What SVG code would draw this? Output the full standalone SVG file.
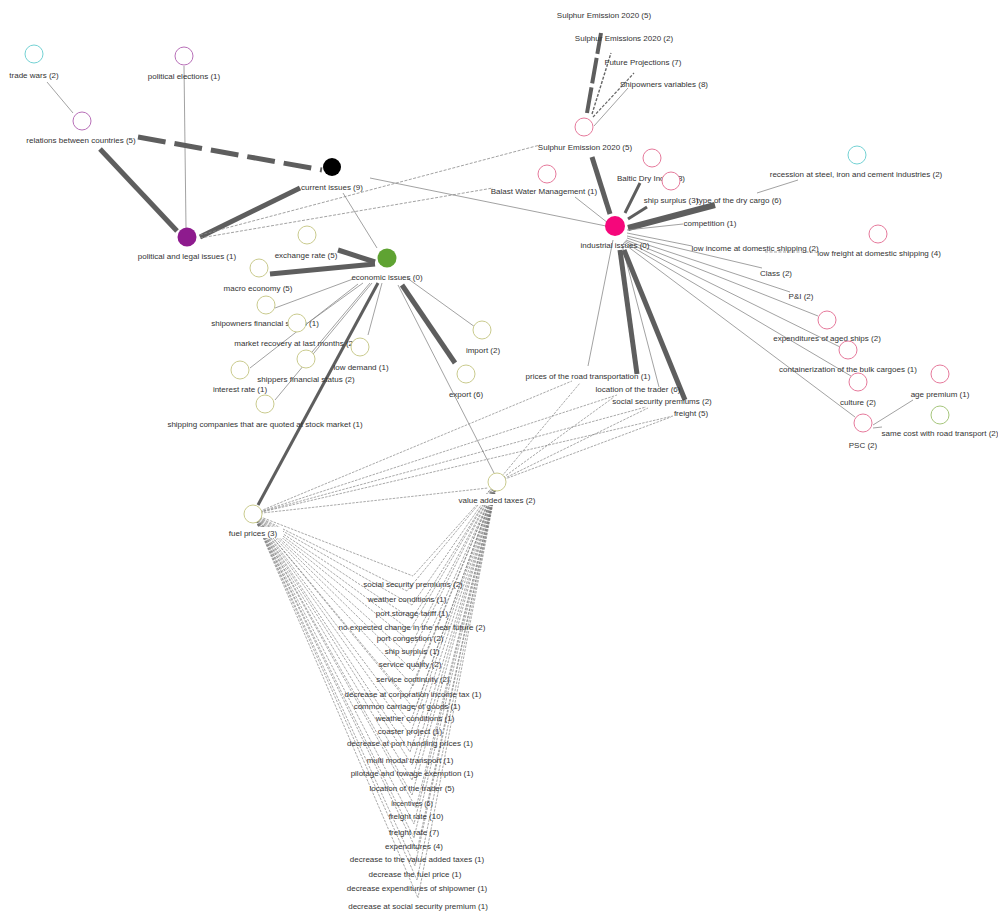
<svg xmlns="http://www.w3.org/2000/svg" width="998" height="915" viewBox="0 0 998 915">
<style>
text{font-family:"Liberation Sans",Arial,sans-serif;font-size:8px;fill:#333;text-anchor:middle}
.t{stroke:#8a8a8a;stroke-width:.8;fill:none}
.d{stroke:#8a8a8a;stroke-width:.8;fill:none;stroke-dasharray:3 1.5}
.m{stroke:#5e5e5e;stroke-width:3;fill:none}
.T{stroke:#5e5e5e;stroke-width:5;fill:none}
.f{stroke:#6e6e6e;stroke-width:.6;fill:none;stroke-dasharray:2.5 1.2}
.cy{fill:#fff;stroke:#74d2d4;stroke-width:1}
.pu{fill:#fff;stroke:#b870b8;stroke-width:1}
.pk{fill:#fff;stroke:#e67a9c;stroke-width:1}
.ol{fill:#fff;stroke:#cacb8e;stroke-width:1}
.gr{fill:#fff;stroke:#a6c67c;stroke-width:1}
</style>
<defs>
<mask id="lm" maskUnits="userSpaceOnUse" x="0" y="0" width="998" height="915">
<rect x="0" y="0" width="998" height="915" fill="#fff"/>
<rect x="225" y="527" width="58" height="11" fill="#000"/>
<rect x="456" y="494" width="82" height="11" fill="#000"/>
</mask>
</defs>
<rect width="998" height="915" fill="#fff"/>
<g id="connectors">
<line class="t" x1="47" y1="82" x2="73" y2="113"/>
<line class="t" x1="184" y1="66" x2="186" y2="228"/>
<line class="T" x1="100" y1="149" x2="177" y2="231"/>
<line class="T" x1="200" y1="237" x2="300" y2="188"/>
<line class="T" x1="138" y1="137" x2="322" y2="170" style="stroke-dasharray:28 9"/>
<line class="d" x1="200" y1="235" x2="540" y2="145"/>
<line class="d" x1="200" y1="238" x2="493" y2="188"/>
<line class="t" x1="343" y1="193" x2="377" y2="248"/>
<line class="t" x1="370" y1="178" x2="606" y2="226"/>
<line class="T" x1="587" y1="113" x2="601" y2="33" style="stroke-width:4;stroke-dasharray:26 4"/>
<line class="d" x1="592" y1="114" x2="611" y2="53" style="stroke-width:1.4;stroke:#666"/>
<line class="d" x1="593" y1="117" x2="634" y2="73" style="stroke-width:1.2;stroke:#666"/>
<line class="t" x1="594" y1="126" x2="628" y2="88"/>
<line class="T" x1="592" y1="157" x2="610" y2="214"/>
<line class="t" x1="575" y1="197" x2="608" y2="223"/>
<line class="m" x1="640" y1="183" x2="625" y2="213"/>
<line class="m" x1="647" y1="207" x2="628" y2="219"/>
<line class="T" x1="715" y1="205" x2="628" y2="228" style="stroke-width:6"/>
<line class="t" x1="627" y1="230" x2="683" y2="224"/>
<line class="t" x1="627" y1="233" x2="692" y2="246"/>
<line class="t" x1="627" y1="236" x2="762" y2="268"/>
<line class="t" x1="627" y1="238" x2="790" y2="292"/>
<line class="t" x1="626" y1="240" x2="818" y2="316"/>
<line class="t" x1="625" y1="241" x2="840" y2="347"/>
<line class="t" x1="624" y1="242" x2="851" y2="376"/>
<line class="t" x1="623" y1="243" x2="855" y2="417"/>
<line class="t" x1="757" y1="193" x2="798" y2="180"/>
<line class="d" x1="765" y1="252" x2="816" y2="252"/>
<line class="t" x1="873" y1="425" x2="913" y2="400"/>
<line class="t" x1="873" y1="428" x2="882" y2="427"/>
<line class="t" x1="613" y1="240" x2="588" y2="366"/>
<line class="T" x1="620" y1="250" x2="637" y2="374"/>
<line class="t" x1="622" y1="245" x2="659" y2="387"/>
<line class="T" x1="624" y1="250" x2="685" y2="400"/>
<line class="T" x1="338" y1="250" x2="375" y2="262"/>
<line class="T" x1="270" y1="274" x2="375" y2="264"/>
<line class="t" x1="353" y1="279" x2="275" y2="308"/>
<line class="t" x1="363" y1="283" x2="305" y2="325"/>
<line class="t" x1="358" y1="284" x2="250" y2="368"/>
<line class="t" x1="370" y1="283" x2="307" y2="358"/>
<line class="t" x1="372" y1="283" x2="275" y2="400"/>
<line class="m" x1="378" y1="283" x2="258" y2="505"/>
<line class="t" x1="382" y1="283" x2="368" y2="335"/>
<line class="t" x1="398" y1="285" x2="494" y2="473"/>
<line class="T" x1="402" y1="285" x2="455" y2="363"/>
<line class="t" x1="407" y1="278" x2="475" y2="327"/>
<g mask="url(#lm)">
<path class="f" d="M253 514L572 381M253 514L617 395M253 514L646 407M253 514L673 416M253 514L488 488M497 482L580 383M497 482L614 397M497 482L648 408M497 482L671 417"/>
<path class="f" d="M253 514L413 576M253 514L407 591M253 514L412 605M253 514L412 619M253 514L410 630M253 514L412 643M253 514L410 656M253 514L413 671M253 514L413 686M253 514L407 698M253 514L415 710M253 514L410 723M253 514L410 735M253 514L410 752M253 514L412 765M253 514L412 780M253 514L412 795M253 514L416 808M253 514L414 824M253 514L414 838M253 514L417 851M253 514L415 866M253 514L417 880M253 514L418 898"/>
<path class="f" d="M497 482L413 576M497 482L407 591M497 482L412 605M497 482L412 619M497 482L410 630M497 482L412 643M497 482L410 656M497 482L413 671M497 482L413 686M497 482L407 698M497 482L415 710M497 482L410 723M497 482L410 735M497 482L410 752M497 482L412 765M497 482L412 780M497 482L412 795M497 482L416 808M497 482L414 824M497 482L414 838M497 482L417 851M497 482L415 866M497 482L417 880M497 482L418 898"/>
</g>
</g>
<g id="n-trade-wars"><circle class="cy" cx="34" cy="54" r="9"/><text x="34" y="78">trade wars (2)</text></g>
<g id="n-political-elections"><circle class="pu" cx="184" cy="56" r="9"/><text x="184" y="79">political elections (1)</text></g>
<g id="n-relations"><circle class="pu" cx="82" cy="121" r="9"/><text x="81" y="143">relations between countries (5)</text></g>
<g id="n-current"><circle cx="332" cy="167" r="9" fill="#000"/><text x="332" y="190">current issues (9)</text></g>
<g id="n-political-legal"><circle cx="187" cy="237" r="9.5" fill="#8e1b8e"/><text x="187" y="259">political and legal issues (1)</text></g>
<g id="n-sulphur-top"><text x="604" y="18">Sulphur Emission 2020 (5)</text></g>
<g id="n-sulphur-emissions"><text x="624" y="41">Sulphur Emissions 2020 (2)</text></g>
<g id="n-future"><text x="643" y="65">Future Projections (7)</text></g>
<g id="n-shipowners-var"><text x="664" y="87">Shipowners variables (8)</text></g>
<g id="n-sulphur"><circle class="pk" cx="584" cy="127" r="9"/><text x="585" y="150">Sulphur Emission 2020 (5)</text></g>
<g id="n-balast"><circle class="pk" cx="547" cy="174" r="9"/><text x="544" y="194">Balast Water Management (1)</text></g>
<g id="n-baltic"><circle class="pk" cx="652" cy="158" r="9"/><text x="651" y="181">Baltic Dry Index (3)</text></g>
<g id="n-ship-surplus"><circle class="pk" cx="671" cy="181" r="9"/><text x="671" y="203">ship surplus (3)</text></g>
<g id="n-dry-cargo"><text x="739" y="203">type of the dry cargo (6)</text></g>
<g id="n-industrial"><circle cx="615" cy="226" r="10" fill="#f5077b"/><text x="615" y="248">industrial issues (0)</text></g>
<g id="n-competition"><text x="710" y="226">competition (1)</text></g>
<g id="n-recession"><circle class="cy" cx="857" cy="155" r="9"/><text x="856" y="177">recession at steel, iron and cement industries (2)</text></g>
<g id="n-low-income"><text x="755" y="251">low income at domestic shipping (2)</text></g>
<g id="n-low-freight"><circle class="pk" cx="878" cy="234" r="9"/><text x="879" y="256">low freight at domestic shipping (4)</text></g>
<g id="n-class"><text x="776" y="276">Class (2)</text></g>
<g id="n-pi"><text x="801" y="299">P&amp;I (2)</text></g>
<g id="n-aged"><circle class="pk" cx="827" cy="320" r="9"/><text x="827" y="341">expenditures of aged ships (2)</text></g>
<g id="n-container"><circle class="pk" cx="848" cy="350" r="9"/><text x="848" y="372">containerization of the bulk cargoes (1)</text></g>
<g id="n-culture"><circle class="pk" cx="858" cy="382" r="9"/><text x="858" y="405">culture (2)</text></g>
<g id="n-psc"><circle class="pk" cx="863" cy="423" r="9"/><text x="863" y="448">PSC (2)</text></g>
<g id="n-age-premium"><circle class="pk" cx="940" cy="374" r="9"/><text x="940" y="397">age premium (1)</text></g>
<g id="n-same-cost"><circle class="gr" cx="940" cy="415" r="9"/><text x="940" y="436">same cost with road transport (2)</text></g>
<g id="n-exchange"><circle class="ol" cx="307" cy="235" r="9"/><text x="306" y="258">exchange rate (5)</text></g>
<g id="n-economic"><circle cx="387" cy="258" r="9.5" fill="#5fa332"/><text x="387" y="280">economic issues (0)</text></g>
<g id="n-macro"><circle class="ol" cx="259" cy="268" r="9"/><text x="258" y="291">macro economy (5)</text></g>
<g id="n-shipowners-fin"><circle class="ol" cx="266" cy="305" r="9"/><text x="265" y="326">shipowners financial status (1)</text></g>
<g id="n-market"><circle class="ol" cx="297" cy="323" r="9"/><text x="295" y="346">market recovery at last months (2)</text></g>
<g id="n-low-demand"><circle class="ol" cx="360" cy="347" r="9"/><text x="361" y="370">low demand (1)</text></g>
<g id="n-interest"><circle class="ol" cx="240" cy="370" r="9"/><text x="240" y="392">interest rate (1)</text></g>
<g id="n-shippers"><circle class="ol" cx="306" cy="359" r="9"/><text x="306" y="382">shippers financial status (2)</text></g>
<g id="n-shipping-companies"><circle class="ol" cx="265" cy="404" r="9"/><text x="265" y="427">shipping companies that are quoted at stock market (1)</text></g>
<g id="n-import"><circle class="ol" cx="482" cy="330" r="9"/><text x="483" y="353">import (2)</text></g>
<g id="n-export"><circle class="ol" cx="466" cy="374" r="9"/><text x="466" y="397">export (6)</text></g>
<g id="n-prices-road"><text x="588" y="379">prices of the road transportation (1)</text></g>
<g id="n-location"><text x="638" y="392">location of the trader (6)</text></g>
<g id="n-social"><text x="662" y="404">social security premiums (2)</text></g>
<g id="n-freight"><text x="691" y="416">freight (5)</text></g>
<g id="n-fuel"><circle class="ol" cx="253" cy="514" r="9"/><text x="253" y="536">fuel prices (3)</text></g>
<g id="n-vat"><circle class="ol" cx="497" cy="482" r="9"/><text x="497" y="503">value added taxes (2)</text></g>
<g id="n-b01"><text x="413" y="587">social security premiums (2)</text></g>
<g id="n-b02"><text x="407" y="602">weather conditions (1)</text></g>
<g id="n-b03"><text x="412" y="616">port storage tariff (1)</text></g>
<g id="n-b04"><text x="412" y="630">no expected change in the near future (2)</text></g>
<g id="n-b05"><text x="410" y="641">port congestion (2)</text></g>
<g id="n-b06"><text x="412" y="654">ship surplus (1)</text></g>
<g id="n-b07"><text x="410" y="667">service quality (2)</text></g>
<g id="n-b08"><text x="413" y="682">service continuity (2)</text></g>
<g id="n-b09"><text x="413" y="697">decrease at corporation income tax (1)</text></g>
<g id="n-b10"><text x="407" y="709">common carriage of goods (1)</text></g>
<g id="n-b11"><text x="415" y="721">weather conditions (1)</text></g>
<g id="n-b12"><text x="410" y="734">coaster project (1)</text></g>
<g id="n-b13"><text x="410" y="746">decrease at port handling prices (1)</text></g>
<g id="n-b14"><text x="410" y="763">multi modal transport (1)</text></g>
<g id="n-b15"><text x="412" y="776">pilotage and towage exemption (1)</text></g>
<g id="n-b16"><text x="412" y="791">location of the trader (5)</text></g>
<g id="n-b17"><text x="412" y="806" style="font-size:7px">incentives (6)</text></g>
<g id="n-b18"><text x="416" y="819">freight rate (10)</text></g>
<g id="n-b19"><text x="414" y="835">freight rate (7)</text></g>
<g id="n-b20"><text x="414" y="849">expenditures (4)</text></g>
<g id="n-b21"><text x="417" y="862">decrease to the value added taxes (1)</text></g>
<g id="n-b22"><text x="415" y="877">decrease the fuel price (1)</text></g>
<g id="n-b23"><text x="417" y="891">decrease expenditures of shipowner (1)</text></g>
<g id="n-b24"><text x="418" y="909">decrease at social security premium (1)</text></g>
</svg>
